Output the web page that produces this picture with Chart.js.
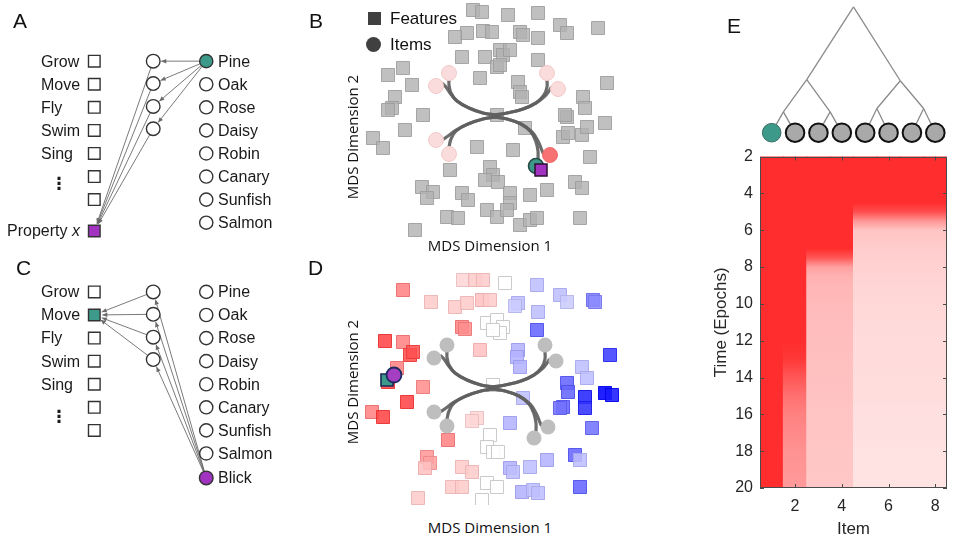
<!DOCTYPE html>
<html><head><meta charset="utf-8">
<script src="https://cdn.jsdelivr.net/npm/chart.js@4.4.1/dist/chart.umd.min.js"></script>
<style>
html,body{margin:0;padding:0;background:#fff;}
#wrap{position:relative;width:960px;height:540px;overflow:hidden;font-family:"Liberation Sans",Arial,sans-serif;color:#111;}
canvas{position:absolute;}
.lbl{position:absolute;font-size:21px;line-height:21px;}
.mds{position:absolute;font-family:"Open Sans",sans-serif;font-size:15px;line-height:18px;white-space:nowrap;transform:translate(-50%,-50%);}
.mds.rot{transform:translate(-50%,-50%) rotate(-90deg);}
.leg{position:absolute;font-size:17px;line-height:18px;}
</style></head><body>
<div id="wrap">
<canvas id="cA" width="330" height="255" style="left:0;top:0"></canvas>
<canvas id="cC" width="330" height="285" style="left:0;top:255px"></canvas>
<canvas id="cB" width="260" height="240" style="left:355px;top:0"></canvas>
<canvas id="cD" width="265" height="240" style="left:355px;top:265px"></canvas>
<canvas id="cT" width="260" height="150" style="left:700px;top:0"></canvas>
<canvas id="cE" width="260" height="400" style="left:700px;top:140px"></canvas>
<div class="lbl" style="left:13px;top:10px">A</div>
<div class="lbl" style="left:309px;top:10px">B</div>
<div class="lbl" style="left:16px;top:257px">C</div>
<div class="lbl" style="left:308px;top:257px">D</div>
<div class="lbl" style="left:727px;top:15px">E</div>
<div style="position:absolute;left:368px;top:12px;width:13px;height:13px;background:#404040"></div>
<div style="position:absolute;left:366px;top:37px;width:15px;height:15px;border-radius:50%;background:#404040"></div>
<div class="leg" style="left:390px;top:10px">Features</div>
<div class="leg" style="left:390px;top:36px">Items</div>
<div class="mds rot" style="left:352px;top:137px">MDS Dimension 2</div>
<div class="mds" style="left:490px;top:245px">MDS Dimension 1</div>
<div class="mds rot" style="left:352px;top:382px">MDS Dimension 2</div>
<div class="mds" style="left:490px;top:527px">MDS Dimension 1</div>
</div>
<script>
// ---------------- DATA ----------------
const featureNames = ['Grow','Move','Fly','Swim','Sing'];
const featureRowCount = 7;
const itemNames = ['Pine','Oak','Rose','Daisy','Robin','Canary','Sunfish','Salmon'];
const newItemName = 'Blick';
const hiddenRows = [0, 0.97, 1.96, 2.93];
const layerX = [0, 1, 1.9];          // feature, hidden, item layers
const propertyRow = 7.36;
const blickRow = 8.06;

// MDS panel B: feature coordinates (x 100 units)
const bFeatX = [-22,-13,13,43,65,72,103,-28,-40,-12,-3,25,28,43,-33,-10,5,8,15,2,5,43,-107,-92,-83,-100,-103,-107,-72,-90,-15,23,25,27,112,88,90,72,70,68,73,87,92,110,2,30,-122,-112,-18,18,95,-45,-5,-2,-10,3,-73,-62,-68,-33,-27,15,15,35,52,80,87,-48,-37,-8,2,12,25,35,42,85,-80];
const bFeatY = [105,103,100,102,90,82,87,82,78,84,83,83,80,77,58,58,65,60,65,48,50,55,40,47,30,18,7,5,0,-15,37,33,23,18,32,18,7,-2,0,-22,-18,-20,-12,-8,0,-13,-23,-33,-32,-35,-42,-55,-52,-60,-65,-67,-72,-77,-83,-78,-85,-78,-88,-80,-75,-67,-73,-102,-103,-95,-102,-95,-110,-105,-103,-103,-115];
// items in MDS space (Pine, Oak, Rose, Daisy, Robin, Canary, Sunfish, Salmon)
const itemMdsX = [41,55,63,52,-59,-46,-59,-46];
const itemMdsY = [-51,-40,26,42,29,42,-25,-39];
const propertyMds = [46,-55];
// hierarchical branches of the learned representation
const branchPaths = [
  [[0,0],[-12,2],[-26,7],[-38,14],[-45,22],[-49,28],[-52,31]],
  [[0,0],[-12,2],[-26,7],[-38,14],[-44,22],[-46,30],[-46,35]],
  [[0,0],[12,2],[28,6],[41,12],[49,20],[52,28],[52,35]],
  [[0,0],[12,2],[28,6],[41,12],[50,19],[54,24],[56,27]],
  [[0,-2],[12,-4],[26,-9],[36,-17],[41,-27],[43,-36],[43,-44]],
  [[0,-2],[12,-4],[26,-9],[37,-17],[43,-26],[46,-33],[48,-38]],
  [[0,-2],[-12,-4],[-27,-9],[-39,-15],[-47,-21],[-53,-25]],
  [[0,-2],[-12,-4],[-27,-9],[-39,-16],[-44,-24],[-46,-32]]
];
// MDS panel D: features with generalised "move" value (+ red, - blue)
const dFeatX = [-90,-62,-38,-26,-11,-3,-30,-18,-10,12,44,67,74,100,102,25,22,45,-31,-28,-6,4,10,7,0,44,-108,-90,-83,-80,-96,-105,-70,-86,-121,-110,-45,-13,-16,-21,-66,-63,-68,-31,-21,-41,-31,-75,-11,0,25,24,27,30,17,-3,-6,0,5,17,20,37,54,29,40,45,-6,4,82,87,87,117,89,94,74,75,70,67,92,92,112,119,99];
const dFeatY = [97,85,80,84,87,87,107,107,107,104,102,92,85,87,85,84,81,75,60,58,64,67,60,54,57,57,46,45,32,35,19,5,0,-15,-25,-30,-53,37,-31,-34,-70,-76,-81,-80,-85,-100,-100,-111,-113,2,37,30,20,-11,-36,-48,-60,-65,-65,-81,-85,-80,-73,-105,-103,-106,-96,-100,-68,-73,-100,32,20,9,4,-5,-20,-21,-10,-21,-6,-8,-41];
const dFeatV = [0.6,0.25,0.25,0.25,0.3,0.25,0.2,0.25,0.25,0,-0.25,-0.25,-0.2,-0.5,-0.45,-0.25,-0.2,-0.25,0.6,0.55,0,0,0,0,0,-0.6,0.9,0.6,0.85,0.85,0.6,0.9,0.55,0.9,0.6,0.9,0.6,0.3,0.2,0.2,0.5,0.45,0.3,0.25,0.25,0.25,0.25,0.25,0,0,-0.3,-0.3,-0.3,-0.25,-0.3,0,0,0,0,-0.3,-0.25,-0.25,-0.3,-0.3,-0.25,-0.25,0,0,-0.6,-0.25,-0.6,-0.75,-0.25,-0.25,-0.6,-0.6,-0.6,-0.55,-0.85,-0.8,-1,-0.9,-0.55];
const moveMds = [-106,7];
const blickMds = [-99,12];

// Panel E: dendrogram and heatmap
const leafItems = [1,2,3,4,5,6,7,8];
const pairHeights = [0.18,0.18,0.21,0.21];
const clusterHeights = [0.46,0.45];
const rootHeight = 1.09;
const heatEpochs = [2,3,4,4.5,5,5.5,6,7,7.5,8,8.5,9,10,11,12,13,14,15,16,17,18,19,20];
const heatItem1 = [1,1,1,1,1,1,1,1,1,1,1,1,1,1,1,1,1,1,1,1,1,1,1];
const heatItem2 = [1,1,1,1,1,1,1,1,1,1,1,1,1,1,1,0.95,0.8,0.68,0.6,0.56,0.52,0.5,0.48];
const heatItem3 = [1,1,1,1,1,1,1,1,0.8,0.45,0.37,0.35,0.33,0.32,0.31,0.3,0.3,0.29,0.28,0.28,0.27,0.27,0.26];
const heatItem4 = [1,1,1,1,1,1,1,1,0.8,0.45,0.37,0.35,0.33,0.32,0.31,0.3,0.3,0.29,0.28,0.28,0.27,0.27,0.26];
const heatItem5 = [1,1,1,1,0.85,0.5,0.28,0.24,0.23,0.22,0.21,0.2,0.19,0.18,0.17,0.17,0.16,0.16,0.15,0.15,0.14,0.14,0.13];
const heatItem6 = [1,1,1,1,0.85,0.5,0.28,0.24,0.23,0.22,0.21,0.2,0.19,0.18,0.17,0.17,0.16,0.16,0.15,0.15,0.14,0.14,0.13];
const heatItem7 = [1,1,1,1,0.85,0.5,0.28,0.24,0.23,0.22,0.21,0.2,0.19,0.18,0.17,0.17,0.16,0.16,0.15,0.15,0.14,0.14,0.13];
const heatItem8 = [1,1,1,1,0.85,0.5,0.28,0.24,0.23,0.22,0.21,0.2,0.19,0.18,0.17,0.17,0.16,0.16,0.15,0.15,0.14,0.14,0.13];
const heatTicksX = [2,4,6,8];
const heatTicksY = [2,4,6,8,10,12,14,16,18,20];

// ---------------- STYLE ----------------
const TEAL = '#3d9a8b', PURPLE = '#a133c0';
const FONT = '"Liberation Sans", Arial, sans-serif';
Chart.defaults.font.family = FONT;
Chart.defaults.animation = false;
Chart.defaults.plugins.legend.display = false;
Chart.defaults.plugins.tooltip.enabled = false;

function P(chart, x, y){ return [chart.scales.x.getPixelForValue(x), chart.scales.y.getPixelForValue(y)]; }
function arrow(ctx, p, q, r0, r1){
  const dx=q[0]-p[0], dy=q[1]-p[1], L=Math.hypot(dx,dy), ux=dx/L, uy=dy/L;
  const sx=p[0]+ux*r0, sy=p[1]+uy*r0, ex=q[0]-ux*r1, ey=q[1]-uy*r1;
  ctx.beginPath(); ctx.moveTo(sx,sy); ctx.lineTo(ex,ey); ctx.stroke();
  const a=Math.atan2(uy,ux), h=5.5, w=0.42;
  ctx.beginPath(); ctx.moveTo(ex,ey);
  ctx.lineTo(ex-h*Math.cos(a-w), ey-h*Math.sin(a-w));
  ctx.lineTo(ex-h*Math.cos(a+w), ey-h*Math.sin(a+w));
  ctx.closePath(); ctx.fill();
}
const hidden = (s)=>({display:false,type:'linear',...s});

// ---------------- PANELS A & C (network diagrams) ----------------
function diagram(id, yRange, isC){
  const rows = Array.from({length:featureRowCount},(_,i)=>i);
  const ds = [];
  ds.push({data: rows.map(r=>({x:layerX[0],y:r})), pointStyle:'rect', pointRadius:8.2,
    backgroundColor: rows.map(r=> (isC && r===1) ? TEAL : '#fff'), borderColor:'#333', borderWidth:1.4});
  if(!isC) ds.push({data:[{x:layerX[0],y:propertyRow}], pointStyle:'rect', pointRadius:8.2, backgroundColor:PURPLE, borderColor:'#333', borderWidth:1.4});
  ds.push({data: hiddenRows.map(r=>({x:layerX[1],y:r})), pointStyle:'circle', pointRadius:6.8, backgroundColor:'#fff', borderColor:'#333', borderWidth:1.4});
  ds.push({data: itemNames.map((n,i)=>({x:layerX[2],y:i})), pointStyle:'circle', pointRadius:6.6,
    backgroundColor: itemNames.map((n,i)=> (!isC && i===0) ? TEAL : '#fff'), borderColor:'#333', borderWidth:1.4});
  if(isC) ds.push({data:[{x:layerX[2],y:blickRow}], pointStyle:'circle', pointRadius:6.8, backgroundColor:PURPLE, borderColor:'#333', borderWidth:1.4});
  ds.forEach(d=>{d.showLine=false; d.clip=false;});
  const plug = {
    id:'net'+id,
    beforeDatasetsDraw(chart){
      const ctx=chart.ctx; ctx.save(); ctx.strokeStyle='#6b6b6b'; ctx.fillStyle='#6b6b6b'; ctx.lineWidth=0.9;
      hiddenRows.forEach(r=>{
        const h=P(chart,layerX[1],r);
        if(!isC){
          arrow(ctx, P(chart,layerX[2],0), h, 7, 8);
          arrow(ctx, h, P(chart,layerX[0],propertyRow), 7, 8);
        } else {
          arrow(ctx, h, P(chart,layerX[0],1), 7, 8);
          arrow(ctx, P(chart,layerX[2],blickRow), h, 7, 8);
        }
      });
      ctx.restore();
    },
    afterDraw(chart){
      const ctx=chart.ctx; ctx.save(); ctx.fillStyle='#1a1a1a'; ctx.textBaseline='middle';
      ctx.font='16px '+FONT; ctx.textAlign='left';
      featureNames.forEach((n,i)=>{ const p=P(chart,-0.905,i); ctx.fillText(n,p[0],p[1]+1); });
      itemNames.forEach((n,i)=>{ const p=P(chart,2.1,i); ctx.fillText(n,p[0],p[1]+1); });
      if(isC){ const p=P(chart,2.1,blickRow); ctx.fillText(newItemName,p[0],p[1]+1); }
      else {
        const p=P(chart,-0.243,propertyRow);
        ctx.font='italic 16px '+FONT; const wx=ctx.measureText('x').width;
        ctx.textAlign='right'; ctx.fillText('x',p[0],p[1]+1);
        ctx.font='16px '+FONT; ctx.fillText('Property ',p[0]-wx,p[1]+1);
      }
      ctx.font='bold 17px "DejaVu Sans"'; ctx.textAlign='center';
      const d=P(chart,-0.6,isC?5.45:5.35); ctx.fillText('\u22EE',d[0],d[1]);
      ctx.restore();
    }
  };
  return new Chart(document.getElementById(id), {type:'scatter', data:{datasets:ds},
    options:{responsive:false, layout:{padding:0, autoPadding:false},
      scales:{x:hidden({min:-1.6,max:4.0}), y:hidden({min:yRange[0],max:yRange[1],reverse:true})}},
    plugins:[plug]});
}
diagram('cA',[-2.65,8.4],false);
diagram('cC',[-1.6,10.75],true);

// ---------------- PANELS B & D (MDS) ----------------
function branchSets(){
  return branchPaths.map(path=>({data:path.map(p=>({x:p[0],y:p[1]})), showLine:true, tension:0.4,
    borderColor:'rgba(95,95,95,0.92)', borderWidth:3.2, borderCapStyle:'round', borderJoinStyle:'round', pointRadius:0, order:2, clip:false}));
}
function dColor(v, border){
  if(v>0.02){ const g=Math.round(255-205*v); return border?`rgba(${235},${Math.max(g-25,0)},${Math.max(g-25,0)},0.9)`:`rgba(255,${g},${g},0.88)`; }
  if(v<-0.02){ const g=Math.round(255-255*(-v)); return border?`rgba(${Math.max(g-25,0)},${Math.max(g-25,0)},235,0.9)`:`rgba(${g},${g},255,0.88)`; }
  return border?'rgba(200,200,200,0.95)':'rgba(255,255,255,0.9)';
}
const itemColorsB = itemNames.map((n,i)=> i===0?TEAL : i===1?'#f77272':'#fadcdc');
const itemBorderB = itemNames.map((n,i)=> i===0?'#284a44' : i===1?'#f26a6a':'#f3c9c9');
new Chart(document.getElementById('cB'), {type:'scatter', data:{datasets:[
  {data:bFeatX.map((x,i)=>({x,y:bFeatY[i]})), pointStyle:'rect', pointRadius:9.2, backgroundColor:'rgba(178,178,178,0.82)', borderColor:'rgba(155,155,155,0.85)', borderWidth:1, order:3, clip:false},
  ...branchSets(),
  {data:itemMdsX.map((x,i)=>({x,y:itemMdsY[i]})), pointStyle:'circle', pointRadius:7.5, backgroundColor:itemColorsB, borderColor:itemBorderB, borderWidth:[1.6,1,1,1,1,1,1,1], order:1, clip:false},
  {data:[{x:propertyMds[0],y:propertyMds[1]}], pointStyle:'rect', pointRadius:8.5, backgroundColor:PURPLE, borderColor:'#2b1030', borderWidth:1.5, order:0, clip:false}
]}, options:{responsive:false, layout:{padding:0,autoPadding:false},
  scales:{x:hidden({min:-140,max:120}), y:hidden({min:-125,max:115})}}});

new Chart(document.getElementById('cD'), {type:'scatter', data:{datasets:[
  {data:dFeatX.map((x,i)=>({x,y:dFeatY[i]})), pointStyle:'rect', pointRadius:9.2, backgroundColor:dFeatV.map(v=>dColor(v,false)), borderColor:dFeatV.map(v=>dColor(v,true)), borderWidth:1, order:3, clip:false},
  ...branchSets(),
  {data:itemMdsX.map((x,i)=>({x,y:itemMdsY[i]})), pointStyle:'circle', pointRadius:7.5, backgroundColor:'#bebebe', borderWidth:0, order:1, clip:false},
  {data:[{x:moveMds[0],y:moveMds[1]}], pointStyle:'rect', pointRadius:8.5, backgroundColor:TEAL, borderColor:'#1c2a55', borderWidth:1.6, order:0.5, clip:false},
  {data:[{x:blickMds[0],y:blickMds[1]}], pointStyle:'circle', pointRadius:7.5, backgroundColor:'#a43fc2', borderColor:'#1c2a60', borderWidth:1.8, order:0, clip:false}
]}, options:{responsive:false, layout:{padding:0,autoPadding:false},
  scales:{x:hidden({min:-138,max:127}), y:hidden({min:-118,max:122})}}});

// ---------------- PANEL E: dendrogram ----------------
(function(){
  const pairs=[[0,1],[2,3],[4,5],[6,7]];
  const pairNodes=pairs.map((p,k)=>({x:(leafItems[p[0]]+leafItems[p[1]])/2, y:pairHeights[k], kids:p.map(i=>({x:leafItems[i],y:0}))}));
  const clusters=[[0,1],[2,3]].map((c,k)=>({x:(pairNodes[c[0]].x+pairNodes[c[1]].x)/2, y:clusterHeights[k], kids:c.map(i=>pairNodes[i])}));
  const root={x:(clusters[0].x+clusters[1].x)/2, y:rootHeight, kids:clusters};
  const segs=[];
  [root,...clusters,...pairNodes].forEach(n=>n.kids.forEach(k=>segs.push([{x:n.x,y:n.y},{x:k.x,y:k.y}])));
  const ds=segs.map(s=>({data:s, showLine:true, borderColor:'#8a8a8a', borderWidth:1.3, pointRadius:0, order:2, clip:false}));
  ds.push({data:leafItems.map(x=>({x,y:0})), pointStyle:'circle', pointRadius:9.3,
    backgroundColor:leafItems.map((x,i)=>i===0?TEAL:'#a9a9a9'), borderColor:leafItems.map((x,i)=>i===0?'#3a6b63':'#111'),
    borderWidth:leafItems.map((x,i)=>i===0?1:2), order:1, clip:false});
  new Chart(document.getElementById('cT'), {type:'scatter', data:{datasets:ds},
    options:{responsive:false, layout:{padding:{left:60,right:13,top:0,bottom:0},autoPadding:false},
      scales:{x:hidden({min:0.5,max:8.5}), y:hidden({min:-0.15,max:1.15})}}});
})();

// ---------------- PANEL E: heatmap ----------------
(function(){
  const heat=[heatItem1,heatItem2,heatItem3,heatItem4,heatItem5,heatItem6,heatItem7,heatItem8];
  const shade=v=>{const g=Math.round(255-210*v); return `rgb(255,${g},${g})`;};
  const e0=heatEpochs[0], e1=heatEpochs[heatEpochs.length-1];
  const frame={id:'frame', afterDraw(chart){
    const {left,right,top,bottom}=chart.chartArea, ctx=chart.ctx, sx=chart.scales.x, sy=chart.scales.y;
    ctx.save(); ctx.strokeStyle='#4a4a4a'; ctx.lineWidth=1;
    ctx.strokeRect(Math.round(left)+0.5, Math.round(top)+0.5, Math.round(right-left)-1, Math.round(bottom-top)-1);
    ctx.beginPath();
    heatTicksY.forEach(v=>{const y=Math.round(sy.getPixelForValue(v))+0.5; ctx.moveTo(left,y); ctx.lineTo(left+4,y); ctx.moveTo(right,y); ctx.lineTo(right-4,y);});
    heatTicksX.forEach(v=>{const x=Math.round(sx.getPixelForValue(v))+0.5; ctx.moveTo(x,top); ctx.lineTo(x,top+4); ctx.moveTo(x,bottom); ctx.lineTo(x,bottom-4);});
    ctx.stroke(); ctx.restore();
  }};
  new Chart(document.getElementById('cE'), {type:'bar',
    data:{datasets:[{data:leafItems.map(i=>({x:i,y:[e0,e1]})), barPercentage:1, categoryPercentage:1, borderWidth:0, inflateAmount:0.5,
      backgroundColor:(c)=>{
        const ch=c.chart; if(!ch.chartArea || c.dataIndex===undefined) return shade(1);
        const y=ch.scales.y, g=ch.ctx.createLinearGradient(0,y.getPixelForValue(e0),0,y.getPixelForValue(e1));
        const vals=heat[c.dataIndex];
        heatEpochs.forEach((e,k)=>g.addColorStop((e-e0)/(e1-e0), shade(vals[k])));
        return g;
      }}]},
    options:{responsive:false, layout:{padding:{left:0,right:13,top:15,bottom:0},autoPadding:false},
      scales:{
        x:{type:'linear', min:0.5, max:8.5, offset:false, grid:{display:false, drawTicks:false, offset:false}, border:{display:false},
           afterBuildTicks:(s)=>{s.ticks=heatTicksX.map(v=>({value:v}));}, afterFit:(s)=>{s.height=52;},
           ticks:{font:{size:16}, color:'#262626', padding:9, maxRotation:0},
           title:{display:true, text:'Item', font:{size:17}, color:'#262626', padding:{top:2,bottom:0}}},
        y:{type:'linear', min:2, max:20, reverse:true, grid:{display:false, drawTicks:false}, border:{display:false},
           afterBuildTicks:(s)=>{s.ticks=heatTicksY.map(v=>({value:v}));}, afterFit:(s)=>{s.width=60;},
           ticks:{font:{size:16}, color:'#262626', padding:7},
           title:{display:true, text:'Time (Epochs)', font:{size:17}, color:'#262626', padding:{top:11,bottom:0}}}
      }},
    plugins:[frame]});
})();
</script>
</body></html>
